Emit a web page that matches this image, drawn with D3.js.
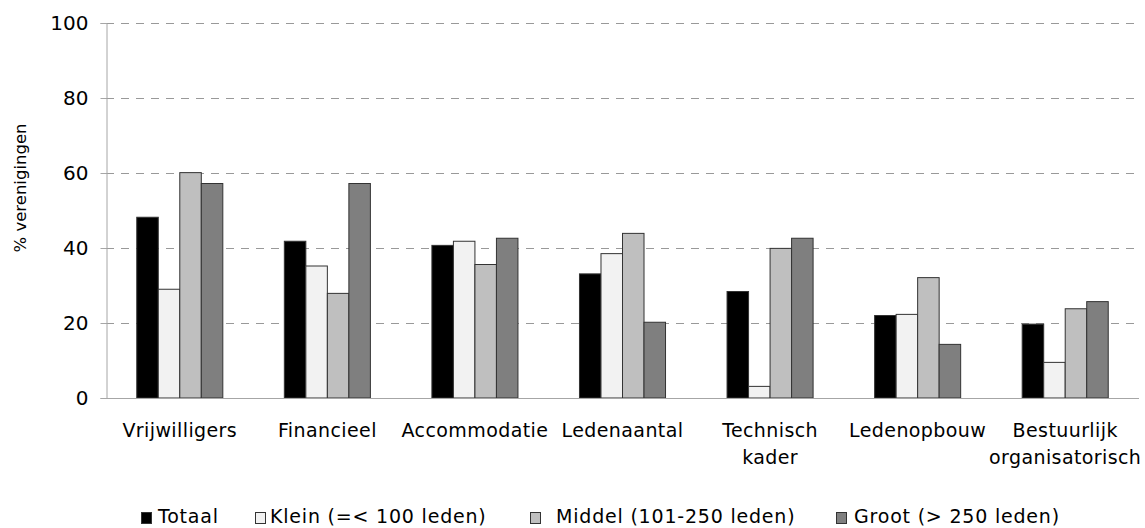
<!DOCTYPE html>
<html>
<head>
<meta charset="utf-8">
<script src="https://cdn.jsdelivr.net/npm/d3@7"></script>
<style>
	body { margin: 0; background: #fff; }
	text { font-family: "DejaVu Sans", sans-serif; fill: #000; }
</style>
</head>
<body>
<div id="chart"></div>
<script>
var categories = ['Vrijwilligers', 'Financieel', 'Accommodatie', 'Ledenaantal', 'Technisch\nkader', 'Ledenopbouw', 'Bestuurlijk\norganisatorisch'];
var seriesNames = ['Totaal', 'Klein (=< 100 leden)', 'Middel (101-250 leden)', 'Groot (> 250 leden)'];
var totaal = [48.2, 41.8, 40.7, 33.1, 28.4, 22.0, 19.7];
var klein  = [29.0, 35.2, 41.8, 38.5, 3.1, 22.3, 9.5];
var middel = [60.1, 27.9, 35.6, 43.9, 39.9, 32.1, 23.8];
var groot  = [57.2, 57.2, 42.6, 20.2, 42.6, 14.3, 25.7];
var yTicks = [0, 20, 40, 60, 80, 100];

var series = [totaal, klein, middel, groot];
var colors = ['#000000', '#f2f2f2', '#bfbfbf', '#7f7f7f'];

var width = 1145,
	height = 528;

var svg = d3.select('#chart').append('svg')
	.attr('width', width)
	.attr('height', height);

var x0 = d3.scaleBand()
	.domain(categories)
	.range([106, 1139])
	.padding(0);

var x1 = d3.scaleBand()
	.domain(d3.range(series.length))
	.range([0, x0.bandwidth()])
	.paddingInner(0)
	.paddingOuter(1.43);

var y = d3.scaleLinear()
	.domain([0, 100])
	.range([398, 23]);

// gridlines
svg.append('g')
	.classed('grid', true)
	.selectAll('line')
	.data(yTicks.filter(d => d > 0))
	.enter()
	.append('line')
	.attr('x1', 106)
	.attr('x2', 1139)
	.attr('y1', d => Math.round(y(d)) + 0.5)
	.attr('y2', d => Math.round(y(d)) + 0.5)
	.attr('stroke', '#999')
	.attr('stroke-dasharray', '8,7');

// y axis
var yAxis = svg.append('g')
	.attr('transform', 'translate(106.5,0)')
	.call(d3.axisLeft(y).tickValues(yTicks).tickSize(6).tickPadding(12));

yAxis.select('.domain').attr('stroke', '#a6a6a6');
yAxis.selectAll('.tick line').attr('stroke', '#a6a6a6');
yAxis.selectAll('.tick text')
	.style('font-size', '20px')
	.attr('fill', '#000');

// bars
var groups = svg.append('g')
	.selectAll('g')
	.data(categories)
	.enter()
	.append('g')
	.attr('transform', d => 'translate(' + x0(d) + ',0)');

groups.selectAll('rect')
	.data((d, i) => series.map((s, j) => ({ s: j, v: s[i] })))
	.enter()
	.append('rect')
	.attr('x', d => x1(d.s))
	.attr('y', d => y(d.v))
	.attr('width', x1.bandwidth())
	.attr('height', d => y(0) - y(d.v))
	.attr('fill', d => colors[d.s])
	.attr('stroke', '#333')
	.attr('stroke-width', 1);

// x axis line
svg.append('line')
	.attr('x1', 106)
	.attr('x2', 1139)
	.attr('y1', 398.5)
	.attr('y2', 398.5)
	.attr('stroke', '#a6a6a6');

// category labels
var labels = svg.append('g')
	.selectAll('text')
	.data(categories)
	.enter()
	.append('text')
	.attr('text-anchor', 'middle')
	.attr('y', 437)
	.style('font-size', '19px')
	.style('letter-spacing', '0.4px');

labels.selectAll('tspan')
	.data(d => d.split('\n').map(t => ({ t: t, c: d })))
	.enter()
	.append('tspan')
	.attr('x', d => x0(d.c) + x0.bandwidth() / 2)
	.attr('dy', (d, i) => i ? 27 : 0)
	.text(d => d.t);

// y label
svg.append('text')
	.attr('transform', 'translate(26,188) rotate(-90)')
	.attr('text-anchor', 'middle')
	.style('font-size', '16.5px')
	.text('% verenigingen');

// legend
var legendX = [141, 255, 530, 836],
	legendGap = [17, 15, 26, 18];

var legend = svg.append('g')
	.selectAll('g')
	.data(seriesNames)
	.enter()
	.append('g')
	.attr('transform', (d, i) => 'translate(' + legendX[i] + ',0)');

legend.append('rect')
	.attr('x', 0.5)
	.attr('y', 512.5)
	.attr('width', 10)
	.attr('height', 11)
	.attr('fill', (d, i) => colors[i])
	.attr('stroke', '#333');

legend.append('text')
	.attr('x', (d, i) => legendGap[i])
	.attr('y', 523)
	.style('font-size', '19px')
	.style('letter-spacing', '0.8px')
	.text(d => d);
</script>
</body>
</html>
